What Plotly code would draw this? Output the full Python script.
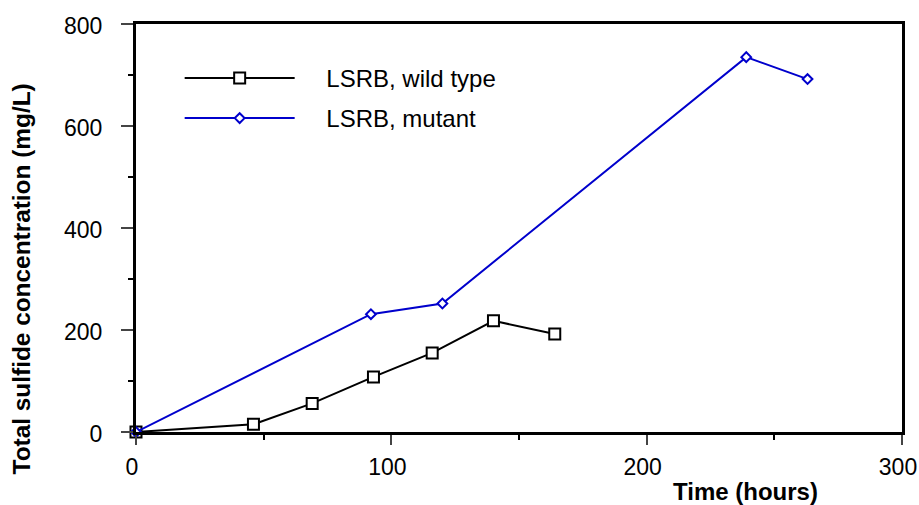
import plotly.graph_objects as go

wt_time = [0, 46, 69, 93, 116, 140, 164]
wt_sulfide = [0, 15, 56, 108, 155, 218, 192]
mut_time = [0, 92, 120, 239, 263]
mut_sulfide = [0, 231, 252, 735, 692]

x_ticks = [0, 100, 200, 300]
y_ticks = [0, 200, 400, 600, 800]

FONT = "Liberation Sans, Arial, sans-serif"
SP = "\u00a0" * 4

fig = go.Figure()
fig.add_trace(go.Scatter(
    x=wt_time, y=wt_sulfide, mode="lines+markers", name=SP + "LSRB, wild type",
    legendgroup="a",
    line=dict(color="black", width=2),
    marker=dict(symbol="square", size=11, color="white", line=dict(color="black", width=2)),
    cliponaxis=False,
))
fig.add_trace(go.Scatter(
    x=mut_time, y=mut_sulfide, mode="lines+markers", name=SP + "LSRB, mutant",
    legendgroup="b",
    line=dict(color="#0000cc", width=2),
    marker=dict(symbol="diamond", size=7.5, color="white", line=dict(color="#0000cc", width=2)),
    cliponaxis=False,
))

fig.update_layout(
    width=919, height=505, autosize=False,
    margin=dict(l=136, r=17, t=24, b=73, autoexpand=False),
    paper_bgcolor="white", plot_bgcolor="white",
    font=dict(family=FONT, size=23, color="black"),
    showlegend=True,
    legend=dict(x=0.057, y=0.922, xanchor="left", yanchor="top",
                bgcolor="rgba(0,0,0,0)", itemwidth=110, traceorder="grouped",
                font=dict(family=FONT, size=24), tracegroupgap=6),
    xaxis=dict(range=[0, 300], tickvals=x_ticks, ticks="outside", ticklen=10, tickwidth=2,
               linecolor="black", linewidth=3, showline=True, mirror=True, showgrid=False,
               zeroline=False, tickfont=dict(size=23), ticklabelstandoff=2, ticklabelshift=-4,
               automargin=False,
               minor=dict(dtick=50, ticks="outside", ticklen=5, tickwidth=2, tickcolor="black", showgrid=False)),
    yaxis=dict(range=[0, 800], tickvals=y_ticks, ticks="outside", ticklen=12, tickwidth=2,
               linecolor="black", linewidth=3, showline=True, mirror=True, showgrid=False,
               zeroline=False, tickfont=dict(size=23), ticklabelstandoff=14, ticklabelshift=2,
               automargin=False,
               minor=dict(dtick=100, ticks="outside", ticklen=5, tickwidth=2, tickcolor="black", showgrid=False)),
    annotations=[
        dict(text="<b>Time (hours)</b>", xref="paper", yref="paper", x=0.796, y=-0.147,
             xanchor="center", yanchor="middle", showarrow=False, font=dict(size=24)),
        dict(text="<b>Total sulfide concentration (mg/L)</b>", xref="paper", yref="paper",
             x=-0.149, y=0.376, xanchor="center", yanchor="middle", textangle=-90,
             showarrow=False, font=dict(size=24.4)),
    ],
)

fig.write_html("out.html", config={"displayModeBar": False})

with open("out.html", "r", encoding="utf-8") as f:
    html = f.read()
html = html.replace("<head>", "<head><style>html,body{margin:0;padding:0;}</style>", 1)
with open("out.html", "w", encoding="utf-8") as f:
    f.write(html)
